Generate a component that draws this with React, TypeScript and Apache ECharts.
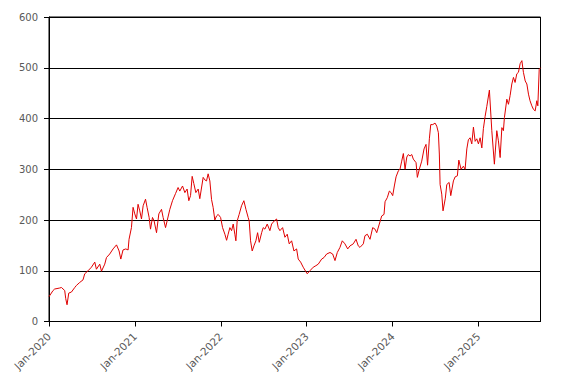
import React, { useEffect, useRef } from "react";
import * as echarts from "echarts";

// Time positions in decimal years
const years: number[] = [
  2020.0, 2020.047, 2020.066, 2020.125, 2020.145, 2020.183, 2020.195, 2020.21, 2020.23, 2020.261,
  2020.3, 2020.319, 2020.358, 2020.396, 2020.416, 2020.455, 2020.494, 2020.533, 2020.552, 2020.591,
  2020.611, 2020.649, 2020.669, 2020.707, 2020.746, 2020.786, 2020.816, 2020.836, 2020.862, 2020.894,
  2020.921, 2020.932, 2020.96, 2020.979, 2020.999, 2021.019, 2021.037, 2021.057, 2021.077, 2021.096,
  2021.124, 2021.142, 2021.166, 2021.182, 2021.205, 2021.224, 2021.252, 2021.279, 2021.31, 2021.329,
  2021.357, 2021.375, 2021.407, 2021.438, 2021.473, 2021.503, 2021.523, 2021.555, 2021.582, 2021.608,
  2021.628, 2021.648, 2021.667, 2021.686, 2021.71, 2021.737, 2021.756, 2021.795, 2021.815, 2021.834,
  2021.853, 2021.873, 2021.893, 2021.911, 2021.931, 2021.951, 2021.97, 2021.998, 2022.021, 2022.048,
  2022.068, 2022.086, 2022.106, 2022.126, 2022.145, 2022.164, 2022.176, 2022.191, 2022.214, 2022.242,
  2022.269, 2022.293, 2022.319, 2022.331, 2022.347, 2022.366, 2022.386, 2022.409, 2022.429, 2022.448,
  2022.476, 2022.494, 2022.514, 2022.541, 2022.572, 2022.592, 2022.622, 2022.65, 2022.669, 2022.689,
  2022.72, 2022.747, 2022.774, 2022.797, 2022.825, 2022.852, 2022.883, 2022.902, 2022.93, 2022.96,
  2022.988, 2023.007, 2023.038, 2023.077, 2023.108, 2023.135, 2023.175, 2023.202, 2023.233, 2023.272,
  2023.303, 2023.33, 2023.357, 2023.388, 2023.415, 2023.446, 2023.478, 2023.505, 2023.543, 2023.575,
  2023.601, 2023.621, 2023.66, 2023.679, 2023.706, 2023.738, 2023.769, 2023.796, 2023.816, 2023.846,
  2023.874, 2023.901, 2023.913, 2023.939, 2023.963, 2023.983, 2024.002, 2024.021, 2024.041, 2024.068,
  2024.087, 2024.107, 2024.126, 2024.146, 2024.166, 2024.184, 2024.204, 2024.224, 2024.242, 2024.274,
  2024.289, 2024.312, 2024.34, 2024.367, 2024.39, 2024.408, 2024.429, 2024.445, 2024.469, 2024.495,
  2024.515, 2024.534, 2024.545, 2024.554, 2024.573, 2024.588, 2024.615, 2024.632, 2024.659, 2024.678,
  2024.709, 2024.729, 2024.755, 2024.772, 2024.798, 2024.825, 2024.845, 2024.865, 2024.883, 2024.903,
  2024.923, 2024.942, 2024.962, 2024.981, 2025.0, 2025.02, 2025.04, 2025.058, 2025.078, 2025.098,
  2025.128, 2025.156, 2025.186, 2025.214, 2025.233, 2025.253, 2025.273, 2025.291, 2025.303, 2025.331,
  2025.35, 2025.369, 2025.389, 2025.408, 2025.427, 2025.447, 2025.466, 2025.486, 2025.506, 2025.524,
  2025.545, 2025.564, 2025.583, 2025.601, 2025.622, 2025.641, 2025.661, 2025.68, 2025.692, 2025.708,
  2025.723,
];

const prices: number[] = [
  49, 61, 64, 66, 67, 61, 45, 33, 56, 58,
  67, 71, 77, 82, 94, 100, 107, 117, 103, 113,
  99, 113, 126, 133, 143, 151, 139, 123, 141, 143,
  141, 162, 185, 225, 212, 202, 231, 218, 202, 228,
  241, 225, 205, 182, 205, 198, 175, 212, 221, 205,
  185, 198, 221, 238, 252, 264, 257, 267, 254, 261,
  238, 248, 286, 272, 254, 261, 242, 284, 279, 277,
  291, 277, 240, 225, 200, 208, 211, 205, 185, 172,
  160, 172, 185, 179, 192, 172, 159, 198, 211, 228,
  238, 221, 205, 198, 159, 139, 149, 159, 175, 156,
  175, 185, 182, 192, 179, 192, 198, 202, 185, 179,
  185, 166, 172, 153, 159, 139, 143, 123, 117, 107,
  99, 94, 100, 107, 110, 113, 123, 126, 133, 136,
  133, 120, 136, 146, 159, 153, 143, 149, 153, 162,
  149, 146, 153, 169, 172, 162, 185, 182, 175, 192,
  208, 211, 236, 244, 257, 254, 248, 267, 285, 297,
  300, 316, 331, 300, 324, 329, 326, 329, 320, 313,
  284, 300, 316, 340, 349, 308, 360, 388, 388, 391,
  385, 372, 330, 270, 251, 218, 243, 270, 274, 248,
  277, 285, 287, 318, 300, 306, 300, 340, 358, 362,
  350, 383, 355, 360, 350, 362, 342, 380, 404, 424,
  456, 376, 310, 376, 356, 323, 382, 376, 402, 438,
  428, 445, 468, 481, 471, 488, 491, 508, 514, 491,
  474, 468, 448, 435, 425, 418, 415, 435, 425, 497,
  500,
];

const yearTicks: number[] = [2020, 2021, 2022, 2023, 2024, 2025];
const yTicks: number[] = [0, 100, 200, 300, 400, 500, 600];

export default function App() {
  const ref = useRef<HTMLDivElement>(null);
  useEffect(() => {
    if (!ref.current) return;
    const chart = echarts.init(ref.current, undefined, { renderer: "svg" });
    const seriesData = years.map((y, i) => [y, prices[i]]);
    chart.setOption({
      animation: false,
      backgroundColor: "#ffffff",
      grid: {
        left: 41,
        top: 9,
        right: 19.5,
        bottom: 55.5,
        show: true,
        borderColor: "#000000",
        borderWidth: 1,
        backgroundColor: "transparent",
      },
      xAxis: {
        type: "value",
        min: 2020,
        max: years[years.length - 1],
        interval: 1,
        splitLine: { show: false },
        axisLine: { show: true, lineStyle: { color: "#000000", width: 1 } },
        axisTick: {
          show: true,
          length: 5,
          lineStyle: { color: "#000000" },
          customValues: yearTicks,
        },
        axisLabel: {
          rotate: 45,
          margin: 13,
          color: "#595959",
          fontFamily: "DejaVu Sans",
          fontSize: 10.5,
          customValues: yearTicks,
          formatter: (v: number) => "Jan-" + Math.round(v),
        },
      },
      yAxis: {
        type: "value",
        min: 0,
        max: 600,
        interval: 100,
        axisLine: { show: true, lineStyle: { color: "#000000", width: 1 } },
        axisTick: {
          show: true,
          length: 5,
          lineStyle: { color: "#000000" },
          customValues: yTicks,
        },
        splitLine: { show: true, lineStyle: { color: "#000000", width: 1 } },
        axisLabel: {
          margin: 11,
          color: "#595959",
          fontFamily: "DejaVu Sans",
          fontSize: 10,
        },
      },
      series: [
        {
          type: "line",
          data: seriesData,
          showSymbol: false,
          symbol: "none",
          lineStyle: { color: "#e00000", width: 1 },
          itemStyle: { color: "#e00000" },
        },
      ],
    });
    return () => chart.dispose();
  }, []);
  return <div ref={ref} style={{ width: 552, height: 369 }} />;
}
